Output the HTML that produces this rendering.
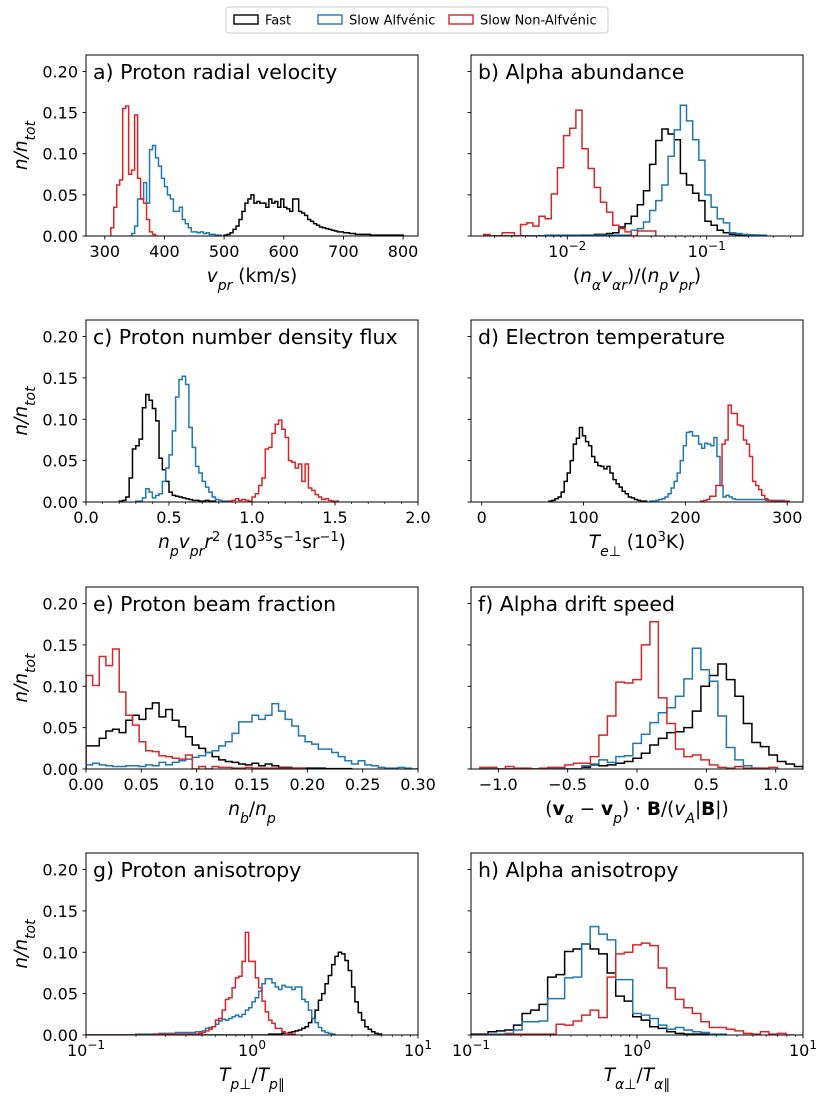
<!DOCTYPE html>
<html><head><meta charset="utf-8"><style>
html,body{margin:0;padding:0;background:#fff;}
svg{display:block;font-family:"DejaVu Sans","Liberation Sans",sans-serif;}
</style></head><body>
<svg id="fig" width="830" height="1103" viewBox="0 0 830 1103" xmlns="http://www.w3.org/2000/svg">
<g>
<rect x="226" y="7" width="382" height="26" rx="3" fill="#fff" stroke="#ccc" stroke-width="1"/>
<g><rect x="234" y="15" width="24" height="9" fill="none" stroke="#000" stroke-width="1.4"/><text x="265" y="24.5" font-size="13">Fast</text></g>
<g><rect x="318" y="15" width="24" height="9" fill="none" stroke="#1f77b4" stroke-width="1.4"/><text x="349" y="24.5" font-size="13">Slow Alfvénic</text></g>
<g><rect x="449" y="15" width="24" height="9" fill="none" stroke="#d62728" stroke-width="1.4"/><text x="480" y="24.5" font-size="13">Slow Non-Alfvénic</text></g>
</g>
</svg>
<script>
// ---------- data (bin start, bin width, heights n/n_tot) ----------
// a) proton radial velocity (km/s)
const aBinWidth = 5;
const aFastStart = 500;
const aFast = [0.001,0.002,0.004,0.008,0.012,0.02,0.03,0.04,0.045,0.05,0.04,0.042,0.04,0.04,0.035,0.045,0.04,0.042,0.035,0.045,0.035,0.033,0.03,0.045,0.045,0.03,0.028,0.025,0.02,0.018,0.015,0.013,0.011,0.01,0.009,0.008,0.007,0.006,0.005,0.005,0.004,0.004,0.003,0.003,0.002,0.002,0.002,0.002,0.002,0.001,0.001,0.001,0.001,0.001,0.001,0.001,0.001,0.001,0.001,0.001];
const aSlowAStart = 345;
const aSlowA = [0.003,0.012,0.045,0.045,0.065,0.04,0.105,0.11,0.095,0.085,0.07,0.06,0.05,0.045,0.03,0.03,0.035,0.02,0.015,0.01,0.005,0.005,0.004,0.005,0.003,0.004,0.002,0.002,0.001,0.001];
const aSlowNAStart = 310;
const aSlowNA = [0.01,0.035,0.062,0.068,0.155,0.158,0.075,0.08,0.147,0.07,0.045,0.04,0.02,0.005,0.002];
// b) alpha abundance (log10 bins)
const bBinWidth = 0.0441;
const bStart = -2.60;
const bFast = [0,0,0,0,0,0,0,0,0,0,0,0,0,0,0,0,0.001,0.001,0.002,0.002,0.003,0.004,0.011,0.015,0.024,0.038,0.055,0.087,0.116,0.13,0.124,0.117,0.076,0.062,0.052,0.043,0.018,0.013,0.007,0.004,0.002,0.001,0.001,0.001,0.001];
const bSlowA = [0,0,0,0,0,0,0,0,0,0,0.001,0.001,0.001,0.001,0.001,0.001,0.001,0.001,0.001,0.001,0.001,0.001,0.001,0.001,0.007,0.009,0.017,0.031,0.043,0.062,0.097,0.129,0.159,0.14,0.117,0.092,0.05,0.035,0.021,0.016,0.004,0.003,0.002,0.0015,0.001,0.001];
const bSlowNA = [0.002,0,0,0.004,0.004,0,0.014,0.016,0.012,0.024,0.021,0.051,0.083,0.122,0.131,0.153,0.106,0.082,0.059,0.041,0.029,0.013,0.009,0.005,0,0.006,0.006,0.006];
// c) proton number density flux
const cBinWidth = 0.02;
const cFastStart = 0.20;
const cFast = [0.001,0.002,0.006,0.029,0.064,0.068,0.076,0.114,0.13,0.123,0.113,0.098,0.053,0.039,0.025,0.012,0.008,0.007,0.006,0.005,0.004,0.003,0.002,0.002,0.001,0.001,0.002,0.001,0.001];
const cSlowAStart = 0.30;
const cSlowA = [0.001,0.001,0.005,0.016,0.012,0.005,0.008,0.01,0.025,0.041,0.057,0.086,0.127,0.148,0.152,0.142,0.09,0.066,0.043,0.035,0.025,0.018,0.012,0.006,0.003,0.002,0.001,0.001];
const cSlowNAStart = 0.86;
const cSlowNA = [0.001,0.002,0.004,0.002,0.003,0.002,0.001,0.006,0.01,0.02,0.029,0.064,0.066,0.083,0.094,0.099,0.088,0.078,0.05,0.048,0.041,0.046,0.025,0.046,0.017,0.014,0.009,0.006,0.003,0.004,0.002,0.001,0.001];
// d) electron temperature (10^3 K)
const dBinWidth = 3;
const dFastStart = 66;
const dFast = [0.001,0.002,0.004,0.006,0.012,0.025,0.035,0.05,0.07,0.077,0.09,0.08,0.073,0.068,0.055,0.048,0.044,0.043,0.04,0.043,0.035,0.027,0.022,0.018,0.013,0.01,0.006,0.005,0.003,0.002,0.001,0.001];
const dSlowAStart = 165;
const dSlowA = [0.001,0.001,0.002,0.003,0.004,0.006,0.01,0.017,0.025,0.035,0.05,0.068,0.084,0.085,0.08,0.08,0.07,0.065,0.071,0.07,0.068,0.078,0.055,0.02,0.006,0.008,0.006,0.004,0.003,0.003,0.003,0.003,0.003,0.003,0.003,0.003,0.003,0.003,0.002,0.002,0.002,0.002,0.002,0.002,0.001];
const dSlowNAStart = 215;
const dSlowNA = [0.001,0.002,0.003,0.007,0.007,0.02,0.02,0.07,0.075,0.117,0.107,0.107,0.093,0.092,0.075,0.07,0.055,0.025,0.02,0.015,0.008,0.004,0.002,0.001,0.001,0.001,0.001,0.001,0.001];
// e) proton beam fraction
const eBinWidth = 0.006;
const eStart = 0;
const eFast = [0.028,0.028,0.037,0.046,0.048,0.044,0.059,0.065,0.06,0.073,0.08,0.063,0.072,0.059,0.051,0.039,0.029,0.025,0.02,0.015,0.011,0.009,0.008,0.006,0.005,0.007,0.004,0.006,0.004,0.002,0.002,0.001,0.001,0.001,0.001,0.001,0.0005,0.0005,0.0005,0.0005];
const eSlowA = [0.005,0.007,0.005,0.004,0.003,0.003,0.004,0.004,0.003,0.005,0.004,0.008,0.005,0.008,0.01,0.012,0.014,0.016,0.02,0.022,0.028,0.033,0.043,0.057,0.057,0.065,0.06,0.065,0.079,0.07,0.06,0.052,0.04,0.033,0.03,0.024,0.024,0.02,0.015,0.01,0.006,0.01,0.005,0.004,0.002,0.001,0.001,0.002,0.001,0];
const eSlowNA = [0.113,0.101,0.136,0.125,0.145,0.093,0.065,0.053,0.033,0.022,0.021,0.016,0.015,0.013,0.012,0.017,0,0.003,0,0.003,0.002,0.002,0.001,0.001,0.002,0.001,0.001,0.001,0.001,0.001,0.001,0.001,0.001];
// f) alpha drift speed
const fBinWidth = 0.0613;
const fStart = -1.133;
const fFast = [0,0,0,0,0,0,0,0,0,0,0,0,0.002,0.005,0.004,0.005,0.007,0.009,0.013,0.019,0.029,0.037,0.044,0.045,0.05,0.07,0.1,0.113,0.127,0.108,0.088,0.055,0.032,0.027,0.017,0.009,0.006,0.003];
const fSlowA = [0,0,0,0,0,0,0,0,0,0,0,0,0.004,0.006,0.011,0.008,0.015,0.016,0.031,0.042,0.056,0.068,0.074,0.088,0.109,0.146,0.12,0.106,0.064,0.026,0.011,0.004,0.001];
const fSlowNA = [0.002,0.002,0,0.003,0.001,0.001,0,0.001,0.002,0.002,0.005,0.007,0.007,0.015,0.041,0.064,0.105,0.104,0.108,0.15,0.178,0.086,0.055,0.024,0.015,0.017,0.011,0.005,0.002,0.001,0.003,0.001,0.001,0.001,0.002];
// g) proton anisotropy (log10 bins)
const gBinWidth = 0.02;
const gStart = -1;
const gFast = [0,0,0,0,0,0,0,0,0,0,0,0,0,0,0,0,0,0,0,0,0,0,0,0,0,0,0,0,0,0,0,0,0,0,0,0,0,0,0,0,0,0,0,0,0,0,0,0,0,0,0,0,0,0,0,0.001,0.001,0.001,0.001,0.002,0.002,0.003,0.004,0.005,0.006,0.008,0.01,0.015,0.02,0.03,0.042,0.05,0.062,0.072,0.085,0.095,0.1,0.098,0.09,0.078,0.058,0.04,0.027,0.018,0.01,0.007,0.004,0.002,0.001];
const gSlowA = [0,0,0,0,0,0,0,0,0,0,0,0,0,0,0,0.001,0.001,0.001,0.001,0.001,0.001,0.001,0.002,0.002,0.002,0.002,0.002,0.003,0.003,0.003,0.003,0.003,0.003,0.004,0.004,0.005,0.008,0.009,0.01,0.013,0.017,0.019,0.018,0.02,0.022,0.024,0.022,0.025,0.03,0.033,0.04,0.045,0.053,0.062,0.068,0.068,0.063,0.058,0.055,0.06,0.058,0.058,0.055,0.058,0.058,0.043,0.04,0.03,0.02,0.015,0.009,0.005,0.003,0.002,0.001];
const gSlowNA = [0,0,0,0,0,0,0,0,0,0,0,0,0,0,0,0,0,0,0,0,0.001,0.001,0.001,0.001,0.001,0.001,0.001,0.001,0.001,0.001,0.001,0.001,0.001,0.001,0.002,0.003,0.005,0.007,0.01,0.018,0.02,0.03,0.043,0.045,0.057,0.069,0.071,0.089,0.124,0.089,0.089,0.069,0.057,0.041,0.028,0.018,0.014,0.008,0.008,0.004,0.002,0.001,0.001];
// h) alpha anisotropy (log10 bins)
const hBinWidth = 2/39;
const hStart = -1;
const hFast = [0.001,0.001,0.004,0.005,0.006,0.012,0.026,0.03,0.037,0.07,0.073,0.101,0.104,0.11,0.104,0.098,0.075,0.047,0.041,0.022,0.018,0.01,0.008,0.004,0.002,0.001,0.001,0.001];
const hSlowA = [0,0,0.001,0.001,0.002,0.006,0.016,0.016,0.017,0.044,0.044,0.069,0.07,0.11,0.131,0.122,0.115,0.067,0.067,0.026,0.024,0.02,0.012,0.007,0.009,0.006,0.004,0.003,0.001,0.001];
const hSlowNA = [0,0,0,0,0.001,0.001,0.001,0.001,0.001,0.001,0.013,0.012,0.017,0.024,0.03,0.021,0.07,0.098,0.1,0.109,0.111,0.108,0.081,0.057,0.043,0.033,0.026,0.016,0.009,0.009,0.007,0.005,0.002,0.001,0.004,0.001,0.002,0];
const yTicks = [0, 0.05, 0.10, 0.15, 0.20];
const yTickLabels = ["0.00","0.05","0.10","0.15","0.20"];
const YMAX = 0.22;

const BLACK = "#000000", BLUE = "#1f77b4", RED = "#d62728";
const NS = "http://www.w3.org/2000/svg";
const svg = document.getElementById("fig");
function mk(tag, attrs, parent){
  const el = document.createElementNS(NS, tag);
  for (const k in attrs) el.setAttribute(k, attrs[k]);
  (parent || svg).appendChild(el);
  return el;
}
const sup = (t)=>`<tspan baseline-shift="super" font-size="12">${t}</tspan>`;
const supS = (t)=>`<tspan baseline-shift="super" font-size="13">${t}</tspan>`;
const it = (t)=>`<tspan font-style="italic">${t}</tspan>`;
const itsub = (t)=>`<tspan baseline-shift="sub" font-size="14" font-style="italic">${t}</tspan>`;

const panels = [
 {key:"a", L:86, T:55, H:181, xmin:268.5, xmax:825, log:false, left:true,
  ticks:[300,400,500,600,700,800], tickLabels:["300","400","500","600","700","800"], minor:[],
  title:"a) Proton radial velocity", xlabel: it("v")+itsub("pr")+" (km/s)",
  series:[{name:"fast",vals:aFast,start:aFastStart,w:aBinWidth,c:BLACK},{name:"slow-alfvenic",vals:aSlowA,start:aSlowAStart,w:aBinWidth,c:BLUE},{name:"slow-non-alfvenic",vals:aSlowNA,start:aSlowNAStart,w:aBinWidth,c:RED}]},
 {key:"b", L:471, T:55, H:181, xmin:-2.691, xmax:-0.309, log:true, left:false,
  ticks:[-2,-1], tickLabels:["10"+sup("−2"),"10"+sup("−1")], minor:"log",
  title:"b) Alpha abundance", xlabel:"("+it("n")+itsub("α")+it("v")+itsub("αr")+")/("+it("n")+itsub("p")+it("v")+itsub("pr")+")",
  series:[{name:"fast",vals:bFast,start:bStart,w:bBinWidth,c:BLACK},{name:"slow-alfvenic",vals:bSlowA,start:bStart,w:bBinWidth,c:BLUE},{name:"slow-non-alfvenic",vals:bSlowNA,start:bStart,w:bBinWidth,c:RED}]},
 {key:"c", L:86, T:320, H:182, xmin:0, xmax:2, log:false, left:true,
  ticks:[0,0.5,1,1.5,2], tickLabels:["0.0","0.5","1.0","1.5","2.0"], minor:[0.1,0.2,0.3,0.4,0.6,0.7,0.8,0.9,1.1,1.2,1.3,1.4,1.6,1.7,1.8,1.9],
  title:"c) Proton number density flux", xlabel: it("n")+itsub("p")+it("v")+itsub("pr")+it("r")+supS("2")+" (10"+supS("35")+"s"+supS("−1")+"sr"+supS("−1")+")",
  series:[{name:"fast",vals:cFast,start:cFastStart,w:cBinWidth,c:BLACK},{name:"slow-alfvenic",vals:cSlowA,start:cSlowAStart,w:cBinWidth,c:BLUE},{name:"slow-non-alfvenic",vals:cSlowNA,start:cSlowNAStart,w:cBinWidth,c:RED}]},
 {key:"d", L:471, T:320, H:182, xmin:-10.5, xmax:315.5, log:false, left:false,
  ticks:[0,100,200,300], tickLabels:["0","100","200","300"], minor:[],
  title:"d) Electron temperature", xlabel: it("T")+itsub("e⊥")+" (10"+supS("3")+"K)",
  series:[{name:"fast",vals:dFast,start:dFastStart,w:dBinWidth,c:BLACK},{name:"slow-alfvenic",vals:dSlowA,start:dSlowAStart,w:dBinWidth,c:BLUE},{name:"slow-non-alfvenic",vals:dSlowNA,start:dSlowNAStart,w:dBinWidth,c:RED}]},
 {key:"e", L:86, T:587, H:182, xmin:0, xmax:0.3, log:false, left:true,
  ticks:[0,0.05,0.1,0.15,0.2,0.25,0.3], tickLabels:["0.00","0.05","0.10","0.15","0.20","0.25","0.30"], minor:[],
  title:"e) Proton beam fraction", xlabel: it("n")+itsub("b")+"/"+it("n")+itsub("p"),
  series:[{name:"fast",vals:eFast,start:eStart,w:eBinWidth,c:BLACK},{name:"slow-alfvenic",vals:eSlowA,start:eStart,w:eBinWidth,c:BLUE},{name:"slow-non-alfvenic",vals:eSlowNA,start:eStart,w:eBinWidth,c:RED}]},
 {key:"f", L:471, T:587, H:182, xmin:-1.197, xmax:1.197, log:false, left:false,
  ticks:[-1,-0.5,0,0.5,1], tickLabels:["−1.0","−0.5","0.0","0.5","1.0"], minor:[],
  title:"f) Alpha drift speed", xlabel:'(<tspan font-weight="bold">v</tspan>'+itsub("α")+' − <tspan font-weight="bold">v</tspan>'+itsub("p")+') · <tspan font-weight="bold">B</tspan>/('+it("v")+itsub("A")+'|<tspan font-weight="bold">B</tspan>|)',
  series:[{name:"fast",vals:fFast,start:fStart,w:fBinWidth,c:BLACK},{name:"slow-alfvenic",vals:fSlowA,start:fStart,w:fBinWidth,c:BLUE},{name:"slow-non-alfvenic",vals:fSlowNA,start:fStart,w:fBinWidth,c:RED}]},
 {key:"g", L:86, T:853, H:182, xmin:-1, xmax:1, log:true, left:true,
  ticks:[-1,0,1], tickLabels:["10"+sup("−1"),"10"+sup("0"),"10"+sup("1")], minor:"log",
  title:"g) Proton anisotropy", xlabel: it("T")+itsub("p⊥")+"/"+it("T")+itsub("p∥"),
  series:[{name:"fast",vals:gFast,start:gStart,w:gBinWidth,c:BLACK},{name:"slow-alfvenic",vals:gSlowA,start:gStart,w:gBinWidth,c:BLUE},{name:"slow-non-alfvenic",vals:gSlowNA,start:gStart,w:gBinWidth,c:RED}]},
 {key:"h", L:471, T:853, H:182, xmin:-1, xmax:1, log:true, left:false,
  ticks:[-1,0,1], tickLabels:["10"+sup("−1"),"10"+sup("0"),"10"+sup("1")], minor:"log",
  title:"h) Alpha anisotropy", xlabel: it("T")+itsub("α⊥")+"/"+it("T")+itsub("α∥"),
  series:[{name:"fast",vals:hFast,start:hStart,w:hBinWidth,c:BLACK},{name:"slow-alfvenic",vals:hSlowA,start:hStart,w:hBinWidth,c:BLUE},{name:"slow-non-alfvenic",vals:hSlowNA,start:hStart,w:hBinWidth,c:RED}]}
];

const W = 332;
panels.forEach(p=>{
  const g = mk("g", {});
  
  
  const B = p.T + p.H;
  const x = v => p.L + (v - p.xmin) / (p.xmax - p.xmin) * W;
  const y = v => B - v / YMAX * p.H;
  const cid = "clip" + p.key;
  const cp = mk("clipPath", {id: cid}, g);
  mk("rect", {x: p.L, y: p.T, width: W, height: p.H}, cp);
  const sg = mk("g", {"clip-path": `url(#${cid})`}, g);
  
  
  p.series.forEach(s=>{
    let d = `M${x(s.start).toFixed(2)},${y(0).toFixed(2)}`;
    s.vals.forEach((v,i)=>{
      d += `V${y(v).toFixed(2)}H${x(s.start + (i+1)*s.w).toFixed(2)}`;
    });
    d += `V${y(0).toFixed(2)}`;
    const path = mk("path", {d: d, fill: "none", stroke: s.c, "stroke-width": 1.5, "stroke-linejoin": "miter"}, sg);
    
    
  });
  const fr = mk("rect", {x: p.L, y: p.T, width: W, height: p.H, fill: "none", stroke: "#000", "stroke-width": 1}, g);
  
  
  yTicks.forEach((v,i)=>{
    const t = mk("line", {x1: p.L - 3.5, x2: p.L, y1: y(v), y2: y(v), stroke: "#000", "stroke-width": 0.9}, g);
    
    
    if (p.left) {
      const tl = mk("text", {x: p.L - 8, y: y(v) + 6, "text-anchor": "end", "font-size": 16}, g);
      
      
      tl.textContent = yTickLabels[i];
    }
  });
  p.ticks.forEach((v,i)=>{
    const t = mk("line", {x1: x(v), x2: x(v), y1: B, y2: B + 3.5, stroke: "#000", "stroke-width": 0.9}, g);
    
    
    const tl = mk("text", {x: x(v), y: B + 21, "text-anchor": "middle", "font-size": 16}, g);
    
    
    tl.innerHTML = p.tickLabels[i];
  });
  let minors = [];
  if (p.minor === "log") {
    for (let dec = -3; dec <= 1; dec++) for (let m = 2; m <= 9; m++) {
      const lv = dec + Math.log10(m);
      if (lv > p.xmin && lv < p.xmax) minors.push(lv);
    }
  } else minors = p.minor;
  minors.forEach(v=>{
    const t = mk("line", {x1: x(v), x2: x(v), y1: B, y2: B + 2, stroke: "#000", "stroke-width": 0.7}, g);
    
    
  });
  const ti = mk("text", {x: p.L + 7, y: p.T + 24, "font-size": 20.5}, g);
  
  
  ti.textContent = p.title;
  const xl = mk("text", {x: p.L + W/2, y: B + 46, "text-anchor": "middle", "font-size": 18.5}, g);
  
  
  xl.innerHTML = p.xlabel;
  if (p.left) {
    const cy = p.T + p.H/2;
    const yl = mk("text", {x: 0, y: 0, "text-anchor": "middle", "font-size": 18.5, transform: `translate(27,${cy}) rotate(-90)`}, g);
    
    
    yl.innerHTML = it("n/n") + itsub("tot");
  }
});
</script>
</body></html>
